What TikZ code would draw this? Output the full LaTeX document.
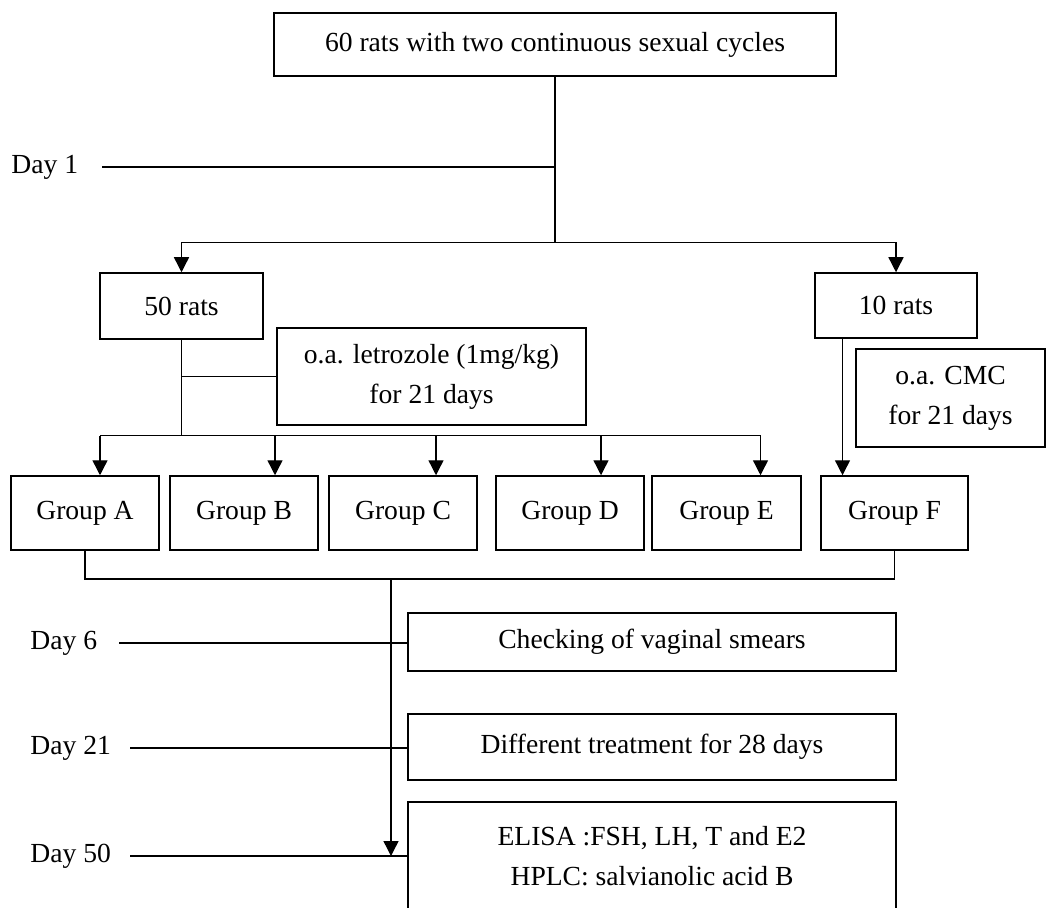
\documentclass[tikz,border=0pt]{standalone}
\usepackage{fontspec}
\setmainfont{Liberation Serif}
\usetikzlibrary{arrows.meta,positioning}

\begin{document}
\begin{tikzpicture}[x=0.5pt,y=-0.5pt,
  kasten/.style={draw,line width=0.75pt,inner sep=0pt,align=center,font=\fontsize{13.8}{20}\selectfont},
  gr/.style 2 args={minimum width=#1*0.5pt,minimum height=#2*0.5pt},
  tag/.style={anchor=west,inner sep=0pt,font=\fontsize{13.8}{16}\selectfont},
  linie/.style={line width=0.7pt},
  pfeil/.style={line width=0.7pt,-{Triangle[length=7.5pt,width=7.5pt]}}]
\useasboundingbox (0,0) rectangle (1047,908);
%Kaesten oben
\node[kasten,gr={562}{63}] (start) at (555,44.5) {60 rats with two continuous sexual cycles};
\node[kasten,gr={163}{66}] (r50) at (181.5,306) {50 rats};
\node[kasten,gr={162}{65}] (r10) at (896,305.5) {10 rats};
\node[kasten,gr={309}{97}] (letro) at (431.5,376.5) {o.a. letrozole (1mg/kg)\\for 21 days};
\node[kasten,gr={189}{98}] (cmc) at (950.5,398) {o.a. CMC\\for 21 days};
%Gruppen A bis F
\foreach \g/\x/\w in {A/85/148,B/244/148,C/403/148,D/570/148,E/726.5/149,F/894.5/147}{
\node[kasten,gr={\w}{74}] (grp\g) at (\x,513) {Group \g};
}
%Kaesten unten
\node[kasten,gr={488}{58}] (chk) at (652,642) {Checking of vaginal smears};
\node[kasten,gr={488}{66}] (diff) at (652,747) {Different treatment for 28 days};
\node[kasten,gr={488}{109}] (elisa) at (652,856.5) {ELISA :FSH, LH, T and E2\\HPLC: salvianolic acid B};
%Tage links
\node[tag] (tag1) at (11,167) {Day 1};
\node[tag] (tag6) at (30,643) {Day 6};
\node[tag] (tag21) at (30,748) {Day 21};
\node[tag] (tag50) at (30,856) {Day 50};
%Aufteilung 60 -> 50 + 10
\path (start.south) ++(0,166) coordinate (teiler);
\draw[linie] (start.south) -- (teiler);
\draw[pfeil] (teiler) -| (r50.north);
\draw[pfeil] (teiler) -| (r10.north);
\draw[linie] ([xshift=12pt]tag1.east) -- (tag1.east -| teiler);
%50 rats -> A bis E
\path (r50.south) ++(0,96) coordinate (verteiler);
\draw[linie] (r50.south) -- (verteiler);
\draw[linie] (r50.south |- letro.west) -- (letro.west);
\draw[linie] ([xshift=7.5pt]grpA.north |- verteiler) -- ([xshift=17pt]grpE.north |- verteiler);
\foreach \g/\dx in {A/7.5,B/15.5,C/16.5,D/15.5,E/17}{
\draw[pfeil] ([xshift=\dx pt]grp\g.north |- verteiler) -- ([xshift=\dx pt]grp\g.north);
}
%10 rats -> F
\draw[pfeil] ([xshift=-26pt]grpF.north |- r10.south) -- ([xshift=-26pt]grpF.north);
%Sammeln und Zeitachse
\coordinate (sammel) at (391,579);
\draw[linie] (grpA.south) |- (sammel) -| (grpF.south);
\draw[pfeil] (sammel) -- (sammel |- tag50);
\draw[linie] ([xshift=11pt]tag6.east) -- (tag6.east -| chk.west);
\draw[linie] ([xshift=9.5pt]tag21.east) -- (tag21.east -| diff.west);
\draw[linie] ([xshift=9.5pt]tag50.east) -- (tag50.east -| elisa.west);
\end{tikzpicture}
\end{document}
